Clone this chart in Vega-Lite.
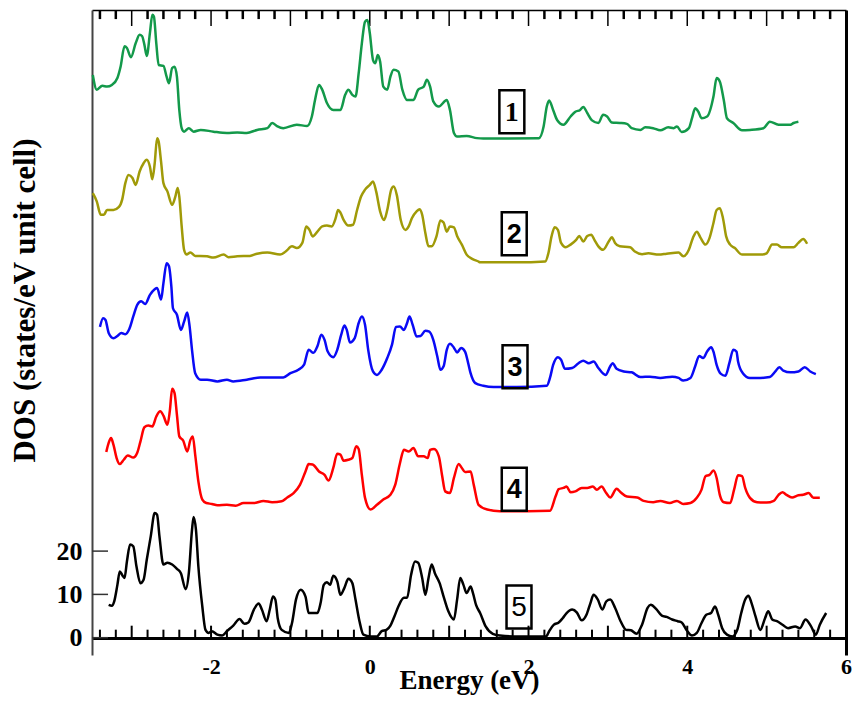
{"$schema":"https://vega.github.io/schema/vega-lite/v6.json","autosize":{"type":"none"},"padding":{"left":92,"top":10,"right":10,"bottom":52},"width":754,"height":645,"background":"white","config":{"view":{"stroke":null}},"resolve":{"axis":{"x":"independent","y":"independent"}},
"layer":[
{"data":{"name":"xticks"},"transform":[{"filter":"datum.kind == 'major'"}],"mark":{"type":"rule","color":"black","strokeWidth":2},"encoding":{"x":{"field":"E","type":"quantitative","scale":{"domain":[-3.5,6],"nice":false,"zero":false},"axis":null},"y":{"datum":0,"type":"quantitative","scale":{"domain":[-4,145],"nice":false,"zero":false},"axis":null},"y2":{"datum":2.77}}},
{"data":{"name":"xticks"},"transform":[{"filter":"datum.kind == 'minor'"}],"mark":{"type":"rule","color":"black","strokeWidth":2},"encoding":{"x":{"field":"E","type":"quantitative","axis":null},"y":{"datum":0,"type":"quantitative","axis":null},"y2":{"datum":1.85}}},
{"data":{"name":"xticks"},"transform":[{"filter":"datum.kind == 'major'"}],"mark":{"type":"rule","color":"black","strokeWidth":1.5},"encoding":{"x":{"field":"E","type":"quantitative","axis":null},"y":{"datum":145,"type":"quantitative","axis":null},"y2":{"datum":141.3}}},
{"data":{"name":"xticks"},"transform":[{"filter":"datum.kind == 'minor'"}],"mark":{"type":"rule","color":"black","strokeWidth":2.5},"encoding":{"x":{"field":"E","type":"quantitative","axis":null},"y":{"datum":145,"type":"quantitative","axis":null},"y2":{"datum":142.9}}},
{"data":{"name":"yticks"},"mark":{"type":"rule","color":"#333333","strokeWidth":1.5},"encoding":{"y":{"field":"v","type":"quantitative","axis":null},"x":{"datum":-3.5,"type":"quantitative","axis":null},"x2":{"datum":-3.298}}},
{"data":{"name":"dos"},"mark":{"type":"line","strokeWidth":2.5,"interpolate":"monotone"},"encoding":{"x":{"field":"E","type":"quantitative","scale":{"domain":[-3.5,6],"nice":false,"zero":false},"axis":{"orient":"bottom","offset":-17,"values":[-2,0,2,4,6],"ticks":false,"domain":true,"domainWidth":3,"domainColor":"black","labelPadding":18,"labelFont":"Liberation Serif","labelFontWeight":"bold","labelFontSize":22,"labelColor":"black","labelFlush":false,"labelOverlap":false,"labelExpr":"'' + datum.value","title":"Energy (eV)","titleFont":"Liberation Serif","titleFontSize":27,"titleFontWeight":"bold","titleColor":"black","titleY":50,"titleBaseline":"alphabetic","grid":false}},"y":{"field":"y","type":"quantitative","scale":{"domain":[-4,145],"nice":false,"zero":false},"axis":{"orient":"left","values":[0,10,20],"ticks":false,"domain":true,"domainWidth":2,"domainColor":"#444444","labelPadding":10,"labelFont":"Liberation Serif","labelFontWeight":"bold","labelFontSize":26,"labelColor":"black","labelFlush":false,"labelOverlap":false,"title":"DOS (states/eV unit cell)","titleFont":"Liberation Serif","titleFontSize":31,"titleFontWeight":"bold","titleColor":"black","titleX":-67,"titleY":290,"titleAngle":-90,"titleBaseline":"middle","titleAlign":"center","grid":false}},"color":{"field":"s","type":"nominal","scale":{"domain":[1,2,3,4,5],"range":["#13994a","#a09a08","#0a0af5","#ff0000","#000000"]},"legend":null}}},
{"data":{"name":"labels"},"mark":{"type":"point","shape":"M-0.58,-1L0.58,-1L0.58,1L-0.58,1Z","size":1849,"filled":false,"stroke":"black","strokeWidth":2.5,"opacity":1},"encoding":{"x":{"field":"E","type":"quantitative","axis":{"orient":"top","ticks":false,"labels":false,"domain":true,"domainWidth":1.5,"domainColor":"black","title":null,"grid":false}},"y":{"field":"y","type":"quantitative","axis":{"orient":"right","ticks":false,"labels":false,"domain":true,"domainWidth":3,"domainColor":"black","title":null,"grid":false}}}},
{"data":{"name":"labels"},"transform":[{"filter":"datum.label == '1'"}],"mark":{"type":"text","font":"Liberation Serif","fontWeight":"bold","fontSize":28,"baseline":"middle","align":"center","color":"black","dy":1},"encoding":{"text":{"field":"label"},"x":{"field":"E","type":"quantitative","axis":null},"y":{"field":"y","type":"quantitative","axis":null}}},
{"data":{"name":"labels"},"transform":[{"filter":"datum.label == '2' || datum.label == '3' || datum.label == '4'"}],"mark":{"type":"text","font":"Liberation Sans","fontWeight":"bold","fontSize":27,"baseline":"middle","align":"center","color":"black","dy":1},"encoding":{"text":{"field":"label"},"x":{"field":"E","type":"quantitative","axis":null},"y":{"field":"y","type":"quantitative","axis":null}}},
{"data":{"name":"labels"},"transform":[{"filter":"datum.label == '5'"}],"mark":{"type":"text","font":"Liberation Sans","fontWeight":"normal","fontSize":28,"baseline":"middle","align":"center","color":"black","dy":1},"encoding":{"text":{"field":"label"},"x":{"field":"E","type":"quantitative","axis":null},"y":{"field":"y","type":"quantitative","axis":null}}}
],
"datasets":{
"labels":[{"label":"1","E":1.79,"y":121.5},{"label":"2","E":1.82,"y":93.3},{"label":"3","E":1.83,"y":62.6},{"label":"4","E":1.82,"y":34.3},{"label":"5","E":1.88,"y":7.1}],
"xticks":[{"E":-3.4,"kind":"minor"},{"E":-3.2,"kind":"minor"},{"E":-3,"kind":"major"},{"E":-2.8,"kind":"minor"},{"E":-2.6,"kind":"minor"},{"E":-2.4,"kind":"minor"},{"E":-2.2,"kind":"minor"},{"E":-2,"kind":"major"},{"E":-1.8,"kind":"minor"},{"E":-1.6,"kind":"minor"},{"E":-1.4,"kind":"minor"},{"E":-1.2,"kind":"minor"},{"E":-1,"kind":"major"},{"E":-0.8,"kind":"minor"},{"E":-0.6,"kind":"minor"},{"E":-0.4,"kind":"minor"},{"E":-0.2,"kind":"minor"},{"E":0,"kind":"major"},{"E":0.2,"kind":"minor"},{"E":0.4,"kind":"minor"},{"E":0.6,"kind":"minor"},{"E":0.8,"kind":"minor"},{"E":1,"kind":"major"},{"E":1.2,"kind":"minor"},{"E":1.4,"kind":"minor"},{"E":1.6,"kind":"minor"},{"E":1.8,"kind":"minor"},{"E":2,"kind":"major"},{"E":2.2,"kind":"minor"},{"E":2.4,"kind":"minor"},{"E":2.6,"kind":"minor"},{"E":2.8,"kind":"minor"},{"E":3,"kind":"major"},{"E":3.2,"kind":"minor"},{"E":3.4,"kind":"minor"},{"E":3.6,"kind":"minor"},{"E":3.8,"kind":"minor"},{"E":4,"kind":"major"},{"E":4.2,"kind":"minor"},{"E":4.4,"kind":"minor"},{"E":4.6,"kind":"minor"},{"E":4.8,"kind":"minor"},{"E":5,"kind":"major"},{"E":5.2,"kind":"minor"},{"E":5.4,"kind":"minor"},{"E":5.6,"kind":"minor"},{"E":5.8,"kind":"minor"}],
"yticks":[{"v":0},{"v":10},{"v":20}],
"dos":[
{"s":1,"E":-3.49,"y":130},{"s":1,"E":-3.44,"y":126.6},{"s":1,"E":-3.37,"y":127.5},{"s":1,"E":-3.31,"y":127.3},{"s":1,"E":-3.25,"y":127.7},{"s":1,"E":-3.18,"y":129.3},{"s":1,"E":-3.14,"y":131.9},{"s":1,"E":-3.09,"y":136.6},{"s":1,"E":-3.06,"y":136.2},{"s":1,"E":-3.01,"y":134.1},{"s":1,"E":-2.95,"y":137.3},{"s":1,"E":-2.9,"y":139.3},{"s":1,"E":-2.87,"y":139},{"s":1,"E":-2.84,"y":137},{"s":1,"E":-2.81,"y":134.4},{"s":1,"E":-2.77,"y":139.7},{"s":1,"E":-2.74,"y":143.9},{"s":1,"E":-2.72,"y":143.5},{"s":1,"E":-2.69,"y":137.3},{"s":1,"E":-2.66,"y":132.3},{"s":1,"E":-2.6,"y":132.1},{"s":1,"E":-2.56,"y":129.6},{"s":1,"E":-2.53,"y":128.1},{"s":1,"E":-2.49,"y":131.6},{"s":1,"E":-2.46,"y":131.9},{"s":1,"E":-2.43,"y":129.6},{"s":1,"E":-2.4,"y":121.9},{"s":1,"E":-2.37,"y":117.7},{"s":1,"E":-2.34,"y":116.9},{"s":1,"E":-2.28,"y":117.7},{"s":1,"E":-2.22,"y":116.9},{"s":1,"E":-2.13,"y":117.3},{"s":1,"E":-1.97,"y":116.9},{"s":1,"E":-1.8,"y":116.6},{"s":1,"E":-1.67,"y":116.7},{"s":1,"E":-1.55,"y":116.6},{"s":1,"E":-1.42,"y":117.3},{"s":1,"E":-1.29,"y":117.7},{"s":1,"E":-1.23,"y":118.9},{"s":1,"E":-1.17,"y":118.2},{"s":1,"E":-1.09,"y":117.7},{"s":1,"E":-0.92,"y":118.5},{"s":1,"E":-0.79,"y":118.2},{"s":1,"E":-0.73,"y":120.4},{"s":1,"E":-0.69,"y":124.2},{"s":1,"E":-0.64,"y":127.7},{"s":1,"E":-0.6,"y":126.6},{"s":1,"E":-0.54,"y":123.5},{"s":1,"E":-0.46,"y":121.9},{"s":1,"E":-0.37,"y":121.9},{"s":1,"E":-0.31,"y":125.4},{"s":1,"E":-0.27,"y":126.6},{"s":1,"E":-0.22,"y":125.4},{"s":1,"E":-0.18,"y":125},{"s":1,"E":-0.14,"y":130.4},{"s":1,"E":-0.1,"y":137.3},{"s":1,"E":-0.06,"y":142.3},{"s":1,"E":-0.03,"y":142.7},{"s":1,"E":0,"y":139.7},{"s":1,"E":0.04,"y":133.5},{"s":1,"E":0.07,"y":132.7},{"s":1,"E":0.1,"y":134.6},{"s":1,"E":0.13,"y":133.1},{"s":1,"E":0.17,"y":127.3},{"s":1,"E":0.22,"y":126.6},{"s":1,"E":0.26,"y":129.6},{"s":1,"E":0.3,"y":131.2},{"s":1,"E":0.36,"y":130.8},{"s":1,"E":0.41,"y":126.6},{"s":1,"E":0.47,"y":124.2},{"s":1,"E":0.55,"y":124.2},{"s":1,"E":0.61,"y":126.6},{"s":1,"E":0.68,"y":127.3},{"s":1,"E":0.72,"y":128.9},{"s":1,"E":0.76,"y":127.3},{"s":1,"E":0.8,"y":123.9},{"s":1,"E":0.87,"y":122.7},{"s":1,"E":0.97,"y":124.2},{"s":1,"E":1.01,"y":121.9},{"s":1,"E":1.06,"y":116.6},{"s":1,"E":1.1,"y":115.8},{"s":1,"E":1.22,"y":115.9},{"s":1,"E":1.35,"y":115.4},{"s":1,"E":1.43,"y":115.3},{"s":1,"E":2.13,"y":115.4},{"s":1,"E":2.19,"y":118.1},{"s":1,"E":2.23,"y":122.7},{"s":1,"E":2.26,"y":124.1},{"s":1,"E":2.31,"y":121.9},{"s":1,"E":2.36,"y":119.6},{"s":1,"E":2.44,"y":118.5},{"s":1,"E":2.53,"y":120.4},{"s":1,"E":2.59,"y":121.5},{"s":1,"E":2.65,"y":121.9},{"s":1,"E":2.69,"y":122.6},{"s":1,"E":2.74,"y":121.2},{"s":1,"E":2.8,"y":119.5},{"s":1,"E":2.88,"y":118.9},{"s":1,"E":2.94,"y":120.8},{"s":1,"E":2.99,"y":120.4},{"s":1,"E":3.05,"y":119},{"s":1,"E":3.15,"y":118.9},{"s":1,"E":3.24,"y":118.7},{"s":1,"E":3.3,"y":117.7},{"s":1,"E":3.41,"y":117.3},{"s":1,"E":3.47,"y":117.9},{"s":1,"E":3.57,"y":117.7},{"s":1,"E":3.66,"y":117.2},{"s":1,"E":3.76,"y":117.9},{"s":1,"E":3.83,"y":117.7},{"s":1,"E":3.87,"y":118.1},{"s":1,"E":3.93,"y":116.8},{"s":1,"E":4.02,"y":117.7},{"s":1,"E":4.06,"y":120},{"s":1,"E":4.1,"y":122.3},{"s":1,"E":4.14,"y":121.5},{"s":1,"E":4.18,"y":120},{"s":1,"E":4.25,"y":120.4},{"s":1,"E":4.33,"y":125},{"s":1,"E":4.37,"y":129.3},{"s":1,"E":4.41,"y":128.5},{"s":1,"E":4.46,"y":124.2},{"s":1,"E":4.5,"y":120},{"s":1,"E":4.58,"y":118.9},{"s":1,"E":4.69,"y":117.2},{"s":1,"E":4.79,"y":117.3},{"s":1,"E":4.96,"y":117.7},{"s":1,"E":5.04,"y":119.2},{"s":1,"E":5.15,"y":118.5},{"s":1,"E":5.3,"y":118.5},{"s":1,"E":5.34,"y":118.9},{"s":1,"E":5.4,"y":119.2},
{"s":2,"E":-3.49,"y":102.7},{"s":2,"E":-3.44,"y":100.8},{"s":2,"E":-3.39,"y":97.7},{"s":2,"E":-3.35,"y":97.7},{"s":2,"E":-3.31,"y":98.8},{"s":2,"E":-3.23,"y":98.8},{"s":2,"E":-3.16,"y":99.5},{"s":2,"E":-3.12,"y":101.2},{"s":2,"E":-3.08,"y":105},{"s":2,"E":-3.04,"y":106.9},{"s":2,"E":-2.99,"y":106.2},{"s":2,"E":-2.95,"y":104.6},{"s":2,"E":-2.9,"y":107.7},{"s":2,"E":-2.85,"y":109.6},{"s":2,"E":-2.81,"y":110.4},{"s":2,"E":-2.77,"y":108.8},{"s":2,"E":-2.74,"y":105.9},{"s":2,"E":-2.71,"y":109.6},{"s":2,"E":-2.68,"y":115.4},{"s":2,"E":-2.66,"y":114.6},{"s":2,"E":-2.63,"y":110},{"s":2,"E":-2.6,"y":105},{"s":2,"E":-2.55,"y":103.1},{"s":2,"E":-2.49,"y":100},{"s":2,"E":-2.45,"y":101.9},{"s":2,"E":-2.42,"y":103.9},{"s":2,"E":-2.4,"y":101.9},{"s":2,"E":-2.37,"y":95},{"s":2,"E":-2.34,"y":89.6},{"s":2,"E":-2.31,"y":88.5},{"s":2,"E":-2.26,"y":89},{"s":2,"E":-2.2,"y":88.2},{"s":2,"E":-2.14,"y":88.2},{"s":2,"E":-2.05,"y":88.1},{"s":2,"E":-1.97,"y":87.8},{"s":2,"E":-1.84,"y":88.5},{"s":2,"E":-1.78,"y":87.9},{"s":2,"E":-1.67,"y":88.1},{"s":2,"E":-1.51,"y":88.2},{"s":2,"E":-1.42,"y":88.7},{"s":2,"E":-1.29,"y":89},{"s":2,"E":-1.13,"y":88.5},{"s":2,"E":-1.06,"y":89.2},{"s":2,"E":-0.98,"y":90.4},{"s":2,"E":-0.92,"y":90},{"s":2,"E":-0.85,"y":91.2},{"s":2,"E":-0.8,"y":95},{"s":2,"E":-0.76,"y":94.2},{"s":2,"E":-0.72,"y":92.7},{"s":2,"E":-0.66,"y":93.8},{"s":2,"E":-0.6,"y":95},{"s":2,"E":-0.54,"y":95.2},{"s":2,"E":-0.48,"y":95},{"s":2,"E":-0.43,"y":96.9},{"s":2,"E":-0.4,"y":98.8},{"s":2,"E":-0.37,"y":98.2},{"s":2,"E":-0.33,"y":96.5},{"s":2,"E":-0.27,"y":95.2},{"s":2,"E":-0.21,"y":95.4},{"s":2,"E":-0.16,"y":98.8},{"s":2,"E":-0.11,"y":101.9},{"s":2,"E":-0.06,"y":103.5},{"s":2,"E":0,"y":104.6},{"s":2,"E":0.04,"y":105.4},{"s":2,"E":0.08,"y":103.1},{"s":2,"E":0.13,"y":98.5},{"s":2,"E":0.18,"y":96.5},{"s":2,"E":0.22,"y":98.8},{"s":2,"E":0.27,"y":103.5},{"s":2,"E":0.3,"y":104.2},{"s":2,"E":0.34,"y":102.3},{"s":2,"E":0.39,"y":96.5},{"s":2,"E":0.45,"y":94.2},{"s":2,"E":0.49,"y":95},{"s":2,"E":0.53,"y":96.9},{"s":2,"E":0.59,"y":98.5},{"s":2,"E":0.63,"y":99},{"s":2,"E":0.66,"y":97.7},{"s":2,"E":0.7,"y":93.5},{"s":2,"E":0.74,"y":90.4},{"s":2,"E":0.78,"y":90.4},{"s":2,"E":0.84,"y":92.7},{"s":2,"E":0.89,"y":96.4},{"s":2,"E":0.93,"y":95.9},{"s":2,"E":0.97,"y":93.8},{"s":2,"E":1.01,"y":95},{"s":2,"E":1.06,"y":94.8},{"s":2,"E":1.1,"y":92.8},{"s":2,"E":1.16,"y":90.8},{"s":2,"E":1.22,"y":88.5},{"s":2,"E":1.29,"y":87.5},{"s":2,"E":1.37,"y":86.9},{"s":2,"E":1.39,"y":86.7},{"s":2,"E":1.85,"y":86.7},{"s":2,"E":2.21,"y":86.9},{"s":2,"E":2.25,"y":88.8},{"s":2,"E":2.29,"y":92.7},{"s":2,"E":2.33,"y":94.8},{"s":2,"E":2.37,"y":94.2},{"s":2,"E":2.41,"y":91.2},{"s":2,"E":2.47,"y":90.2},{"s":2,"E":2.53,"y":90.8},{"s":2,"E":2.6,"y":91.9},{"s":2,"E":2.64,"y":92.8},{"s":2,"E":2.69,"y":91.5},{"s":2,"E":2.74,"y":92.8},{"s":2,"E":2.79,"y":93.1},{"s":2,"E":2.83,"y":91.9},{"s":2,"E":2.88,"y":90.4},{"s":2,"E":2.94,"y":89.6},{"s":2,"E":3.01,"y":91.5},{"s":2,"E":3.05,"y":92.5},{"s":2,"E":3.09,"y":91.2},{"s":2,"E":3.15,"y":90.4},{"s":2,"E":3.28,"y":90.2},{"s":2,"E":3.34,"y":89.2},{"s":2,"E":3.43,"y":88.6},{"s":2,"E":3.51,"y":88.8},{"s":2,"E":3.64,"y":88.5},{"s":2,"E":3.74,"y":88.7},{"s":2,"E":3.89,"y":89},{"s":2,"E":3.95,"y":88.1},{"s":2,"E":4.02,"y":89.6},{"s":2,"E":4.07,"y":92.3},{"s":2,"E":4.12,"y":93.8},{"s":2,"E":4.17,"y":92.3},{"s":2,"E":4.23,"y":90.8},{"s":2,"E":4.28,"y":92.3},{"s":2,"E":4.33,"y":95.8},{"s":2,"E":4.37,"y":98.8},{"s":2,"E":4.41,"y":99.2},{"s":2,"E":4.45,"y":96.9},{"s":2,"E":4.49,"y":92.7},{"s":2,"E":4.54,"y":90.8},{"s":2,"E":4.6,"y":90},{"s":2,"E":4.69,"y":88.5},{"s":2,"E":4.79,"y":88.5},{"s":2,"E":4.94,"y":88.5},{"s":2,"E":5,"y":88.8},{"s":2,"E":5.07,"y":90.8},{"s":2,"E":5.13,"y":90.8},{"s":2,"E":5.19,"y":90.2},{"s":2,"E":5.34,"y":90.2},{"s":2,"E":5.4,"y":91.2},{"s":2,"E":5.46,"y":92.1},{"s":2,"E":5.51,"y":91},
{"s":3,"E":-3.4,"y":71.8},{"s":3,"E":-3.36,"y":73.8},{"s":3,"E":-3.33,"y":73.4},{"s":3,"E":-3.29,"y":70.4},{"s":3,"E":-3.23,"y":69.2},{"s":3,"E":-3.18,"y":69.7},{"s":3,"E":-3.13,"y":70.4},{"s":3,"E":-3.08,"y":70.1},{"s":3,"E":-3.03,"y":71.3},{"s":3,"E":-2.98,"y":74.2},{"s":3,"E":-2.93,"y":76.9},{"s":3,"E":-2.88,"y":77.7},{"s":3,"E":-2.83,"y":77.1},{"s":3,"E":-2.77,"y":79.2},{"s":3,"E":-2.71,"y":80.5},{"s":3,"E":-2.68,"y":80.8},{"s":3,"E":-2.63,"y":78.1},{"s":3,"E":-2.6,"y":81.9},{"s":3,"E":-2.56,"y":86.5},{"s":3,"E":-2.53,"y":85.8},{"s":3,"E":-2.5,"y":81.1},{"s":3,"E":-2.48,"y":76.1},{"s":3,"E":-2.43,"y":74.6},{"s":3,"E":-2.38,"y":71.1},{"s":3,"E":-2.34,"y":73},{"s":3,"E":-2.3,"y":75.1},{"s":3,"E":-2.27,"y":71.9},{"s":3,"E":-2.24,"y":66.5},{"s":3,"E":-2.2,"y":61.1},{"s":3,"E":-2.13,"y":59.6},{"s":3,"E":-2.05,"y":59.6},{"s":3,"E":-1.92,"y":59.2},{"s":3,"E":-1.8,"y":59.6},{"s":3,"E":-1.72,"y":59.2},{"s":3,"E":-1.55,"y":59.6},{"s":3,"E":-1.38,"y":60.1},{"s":3,"E":-1.25,"y":60.1},{"s":3,"E":-1.09,"y":60.1},{"s":3,"E":-1,"y":61.1},{"s":3,"E":-0.9,"y":61.9},{"s":3,"E":-0.83,"y":63},{"s":3,"E":-0.77,"y":66.5},{"s":3,"E":-0.71,"y":65.8},{"s":3,"E":-0.66,"y":67.3},{"s":3,"E":-0.61,"y":70},{"s":3,"E":-0.57,"y":68.8},{"s":3,"E":-0.53,"y":66.1},{"s":3,"E":-0.46,"y":64.8},{"s":3,"E":-0.41,"y":66.5},{"s":3,"E":-0.36,"y":70},{"s":3,"E":-0.32,"y":72.1},{"s":3,"E":-0.29,"y":71.1},{"s":3,"E":-0.25,"y":68.2},{"s":3,"E":-0.19,"y":69.2},{"s":3,"E":-0.14,"y":72.7},{"s":3,"E":-0.1,"y":74.2},{"s":3,"E":-0.06,"y":72.3},{"s":3,"E":-0.02,"y":66.5},{"s":3,"E":0.04,"y":61.5},{"s":3,"E":0.09,"y":60.7},{"s":3,"E":0.15,"y":61.9},{"s":3,"E":0.22,"y":64.6},{"s":3,"E":0.28,"y":67.7},{"s":3,"E":0.33,"y":71.8},{"s":3,"E":0.38,"y":71.9},{"s":3,"E":0.43,"y":71.1},{"s":3,"E":0.47,"y":72.7},{"s":3,"E":0.5,"y":74.2},{"s":3,"E":0.54,"y":72.3},{"s":3,"E":0.59,"y":69.6},{"s":3,"E":0.64,"y":69.7},{"s":3,"E":0.7,"y":70.9},{"s":3,"E":0.75,"y":70.7},{"s":3,"E":0.8,"y":68.8},{"s":3,"E":0.85,"y":65},{"s":3,"E":0.89,"y":61.9},{"s":3,"E":0.93,"y":62.7},{"s":3,"E":0.97,"y":66.5},{"s":3,"E":1.01,"y":67.9},{"s":3,"E":1.06,"y":67},{"s":3,"E":1.1,"y":65.9},{"s":3,"E":1.15,"y":66.9},{"s":3,"E":1.2,"y":66.1},{"s":3,"E":1.24,"y":63.4},{"s":3,"E":1.27,"y":61.1},{"s":3,"E":1.33,"y":58.8},{"s":3,"E":1.43,"y":58.2},{"s":3,"E":1.56,"y":57.9},{"s":3,"E":1.85,"y":57.9},{"s":3,"E":2.23,"y":58.2},{"s":3,"E":2.27,"y":60},{"s":3,"E":2.31,"y":63},{"s":3,"E":2.37,"y":64.8},{"s":3,"E":2.41,"y":64.2},{"s":3,"E":2.46,"y":62.1},{"s":3,"E":2.55,"y":62.3},{"s":3,"E":2.63,"y":63.4},{"s":3,"E":2.69,"y":64},{"s":3,"E":2.76,"y":63.4},{"s":3,"E":2.82,"y":63.8},{"s":3,"E":2.88,"y":62.3},{"s":3,"E":2.97,"y":60.7},{"s":3,"E":3.03,"y":62.7},{"s":3,"E":3.06,"y":63.4},{"s":3,"E":3.11,"y":62.1},{"s":3,"E":3.2,"y":61.5},{"s":3,"E":3.3,"y":61.3},{"s":3,"E":3.41,"y":60.2},{"s":3,"E":3.53,"y":60.3},{"s":3,"E":3.66,"y":60},{"s":3,"E":3.81,"y":60.3},{"s":3,"E":3.89,"y":60},{"s":3,"E":3.95,"y":59.4},{"s":3,"E":4.04,"y":60},{"s":3,"E":4.1,"y":62.7},{"s":3,"E":4.15,"y":65.1},{"s":3,"E":4.2,"y":64.6},{"s":3,"E":4.25,"y":66.1},{"s":3,"E":4.3,"y":67.1},{"s":3,"E":4.33,"y":66.1},{"s":3,"E":4.37,"y":63},{"s":3,"E":4.42,"y":61},{"s":3,"E":4.48,"y":60.5},{"s":3,"E":4.53,"y":63.4},{"s":3,"E":4.58,"y":66.5},{"s":3,"E":4.62,"y":66.1},{"s":3,"E":4.64,"y":63.8},{"s":3,"E":4.7,"y":61.1},{"s":3,"E":4.79,"y":60},{"s":3,"E":4.92,"y":60},{"s":3,"E":5.04,"y":60.2},{"s":3,"E":5.11,"y":61.5},{"s":3,"E":5.16,"y":62.5},{"s":3,"E":5.21,"y":61.7},{"s":3,"E":5.3,"y":61.3},{"s":3,"E":5.4,"y":61.5},{"s":3,"E":5.48,"y":62.5},{"s":3,"E":5.55,"y":61.5},{"s":3,"E":5.62,"y":60.9},
{"s":4,"E":-3.32,"y":42.9},{"s":4,"E":-3.29,"y":45},{"s":4,"E":-3.26,"y":46.1},{"s":4,"E":-3.23,"y":44.6},{"s":4,"E":-3.19,"y":41.5},{"s":4,"E":-3.15,"y":40.1},{"s":4,"E":-3.1,"y":41.1},{"s":4,"E":-3.05,"y":42.1},{"s":4,"E":-2.98,"y":41.6},{"s":4,"E":-2.93,"y":42.7},{"s":4,"E":-2.89,"y":45.3},{"s":4,"E":-2.84,"y":48.6},{"s":4,"E":-2.79,"y":49},{"s":4,"E":-2.74,"y":48.8},{"s":4,"E":-2.69,"y":51.1},{"s":4,"E":-2.64,"y":52.3},{"s":4,"E":-2.6,"y":51.3},{"s":4,"E":-2.55,"y":49.2},{"s":4,"E":-2.52,"y":52.3},{"s":4,"E":-2.49,"y":57.5},{"s":4,"E":-2.46,"y":56.5},{"s":4,"E":-2.43,"y":51.5},{"s":4,"E":-2.4,"y":46.5},{"s":4,"E":-2.35,"y":45.5},{"s":4,"E":-2.3,"y":43},{"s":4,"E":-2.26,"y":45.7},{"s":4,"E":-2.23,"y":46.5},{"s":4,"E":-2.2,"y":42.3},{"s":4,"E":-2.16,"y":36.1},{"s":4,"E":-2.11,"y":31.9},{"s":4,"E":-2.06,"y":31.1},{"s":4,"E":-1.99,"y":30.9},{"s":4,"E":-1.92,"y":30.6},{"s":4,"E":-1.8,"y":30.7},{"s":4,"E":-1.69,"y":30.5},{"s":4,"E":-1.59,"y":31.1},{"s":4,"E":-1.46,"y":31.1},{"s":4,"E":-1.34,"y":31.6},{"s":4,"E":-1.23,"y":31.3},{"s":4,"E":-1.11,"y":31.5},{"s":4,"E":-1.04,"y":32.4},{"s":4,"E":-0.96,"y":33.4},{"s":4,"E":-0.88,"y":35.3},{"s":4,"E":-0.81,"y":38.4},{"s":4,"E":-0.77,"y":40.1},{"s":4,"E":-0.72,"y":40},{"s":4,"E":-0.64,"y":38.4},{"s":4,"E":-0.57,"y":37.6},{"s":4,"E":-0.52,"y":36.3},{"s":4,"E":-0.46,"y":39.2},{"s":4,"E":-0.41,"y":42.5},{"s":4,"E":-0.37,"y":42.3},{"s":4,"E":-0.33,"y":40.9},{"s":4,"E":-0.27,"y":41.1},{"s":4,"E":-0.22,"y":41.5},{"s":4,"E":-0.17,"y":44.2},{"s":4,"E":-0.14,"y":43.6},{"s":4,"E":-0.1,"y":37.6},{"s":4,"E":-0.06,"y":32.3},{"s":4,"E":0.01,"y":29.6},{"s":4,"E":0.09,"y":30.7},{"s":4,"E":0.17,"y":31.9},{"s":4,"E":0.26,"y":33},{"s":4,"E":0.32,"y":35.3},{"s":4,"E":0.38,"y":40.3},{"s":4,"E":0.43,"y":43.4},{"s":4,"E":0.49,"y":43},{"s":4,"E":0.55,"y":43.8},{"s":4,"E":0.61,"y":41.9},{"s":4,"E":0.68,"y":41.9},{"s":4,"E":0.73,"y":41.5},{"s":4,"E":0.76,"y":43.4},{"s":4,"E":0.81,"y":43.6},{"s":4,"E":0.87,"y":41.9},{"s":4,"E":0.91,"y":37.6},{"s":4,"E":0.95,"y":33.8},{"s":4,"E":1.01,"y":33.4},{"s":4,"E":1.06,"y":36.9},{"s":4,"E":1.12,"y":40.1},{"s":4,"E":1.16,"y":39.2},{"s":4,"E":1.2,"y":38.3},{"s":4,"E":1.27,"y":38.4},{"s":4,"E":1.31,"y":35.3},{"s":4,"E":1.37,"y":30.7},{"s":4,"E":1.48,"y":29.6},{"s":4,"E":1.64,"y":29.2},{"s":4,"E":1.98,"y":29.2},{"s":4,"E":2.27,"y":29.3},{"s":4,"E":2.34,"y":32.6},{"s":4,"E":2.38,"y":34.3},{"s":4,"E":2.44,"y":34.6},{"s":4,"E":2.48,"y":34.9},{"s":4,"E":2.53,"y":33.6},{"s":4,"E":2.59,"y":33.8},{"s":4,"E":2.67,"y":34.6},{"s":4,"E":2.74,"y":34.6},{"s":4,"E":2.81,"y":34.9},{"s":4,"E":2.86,"y":34.2},{"s":4,"E":2.92,"y":34.9},{"s":4,"E":2.98,"y":33.4},{"s":4,"E":3.03,"y":32.4},{"s":4,"E":3.11,"y":34.4},{"s":4,"E":3.16,"y":33.6},{"s":4,"E":3.24,"y":32.6},{"s":4,"E":3.37,"y":32.4},{"s":4,"E":3.45,"y":31.6},{"s":4,"E":3.57,"y":31.3},{"s":4,"E":3.66,"y":31.6},{"s":4,"E":3.78,"y":31.1},{"s":4,"E":3.87,"y":31.6},{"s":4,"E":3.95,"y":30.9},{"s":4,"E":4.04,"y":31.1},{"s":4,"E":4.12,"y":32.3},{"s":4,"E":4.18,"y":34.2},{"s":4,"E":4.23,"y":37.3},{"s":4,"E":4.28,"y":37.6},{"s":4,"E":4.33,"y":38.6},{"s":4,"E":4.37,"y":36.9},{"s":4,"E":4.41,"y":33},{"s":4,"E":4.46,"y":31.3},{"s":4,"E":4.54,"y":31.1},{"s":4,"E":4.59,"y":34.2},{"s":4,"E":4.64,"y":37.5},{"s":4,"E":4.69,"y":37.3},{"s":4,"E":4.73,"y":34.6},{"s":4,"E":4.79,"y":32.3},{"s":4,"E":4.88,"y":31.3},{"s":4,"E":5,"y":31.2},{"s":4,"E":5.09,"y":31.6},{"s":4,"E":5.15,"y":33},{"s":4,"E":5.2,"y":33.6},{"s":4,"E":5.25,"y":33},{"s":4,"E":5.32,"y":32.4},{"s":4,"E":5.4,"y":32.9},{"s":4,"E":5.46,"y":33},{"s":4,"E":5.53,"y":33.4},{"s":4,"E":5.59,"y":32.3},{"s":4,"E":5.67,"y":32.3},
{"s":5,"E":-3.29,"y":7.6},{"s":5,"E":-3.25,"y":7.4},{"s":5,"E":-3.22,"y":8.4},{"s":5,"E":-3.18,"y":12.2},{"s":5,"E":-3.15,"y":15.3},{"s":5,"E":-3.12,"y":14.5},{"s":5,"E":-3.09,"y":13.8},{"s":5,"E":-3.06,"y":17.6},{"s":5,"E":-3.02,"y":21.5},{"s":5,"E":-2.98,"y":21.1},{"s":5,"E":-2.94,"y":16.5},{"s":5,"E":-2.89,"y":12.6},{"s":5,"E":-2.85,"y":13.4},{"s":5,"E":-2.81,"y":18},{"s":5,"E":-2.76,"y":23.4},{"s":5,"E":-2.71,"y":28.8},{"s":5,"E":-2.68,"y":28.4},{"s":5,"E":-2.65,"y":23.4},{"s":5,"E":-2.6,"y":16.9},{"s":5,"E":-2.55,"y":17.3},{"s":5,"E":-2.49,"y":16.9},{"s":5,"E":-2.43,"y":15.9},{"s":5,"E":-2.38,"y":14.9},{"s":5,"E":-2.32,"y":11.2},{"s":5,"E":-2.28,"y":14.9},{"s":5,"E":-2.24,"y":24.9},{"s":5,"E":-2.22,"y":27.9},{"s":5,"E":-2.19,"y":24.9},{"s":5,"E":-2.16,"y":16.5},{"s":5,"E":-2.11,"y":7.2},{"s":5,"E":-2.07,"y":1.8},{"s":5,"E":-2.03,"y":1.1},{"s":5,"E":-1.99,"y":1.5},{"s":5,"E":-1.92,"y":0.7},{"s":5,"E":-1.86,"y":0.5},{"s":5,"E":-1.8,"y":1.5},{"s":5,"E":-1.72,"y":2.8},{"s":5,"E":-1.64,"y":4.3},{"s":5,"E":-1.58,"y":3.2},{"s":5,"E":-1.53,"y":3.5},{"s":5,"E":-1.46,"y":6.5},{"s":5,"E":-1.4,"y":7.9},{"s":5,"E":-1.36,"y":6.5},{"s":5,"E":-1.3,"y":3.8},{"s":5,"E":-1.26,"y":6.5},{"s":5,"E":-1.22,"y":9.5},{"s":5,"E":-1.19,"y":8.8},{"s":5,"E":-1.16,"y":4.5},{"s":5,"E":-1.11,"y":1.8},{"s":5,"E":-1.02,"y":1.1},{"s":5,"E":-0.98,"y":3.4},{"s":5,"E":-0.93,"y":8.8},{"s":5,"E":-0.87,"y":11.1},{"s":5,"E":-0.81,"y":9.5},{"s":5,"E":-0.77,"y":5.7},{"s":5,"E":-0.72,"y":5.7},{"s":5,"E":-0.66,"y":5.7},{"s":5,"E":-0.62,"y":8},{"s":5,"E":-0.58,"y":12.2},{"s":5,"E":-0.54,"y":12.8},{"s":5,"E":-0.5,"y":12.2},{"s":5,"E":-0.46,"y":14.3},{"s":5,"E":-0.41,"y":13},{"s":5,"E":-0.37,"y":9.9},{"s":5,"E":-0.32,"y":11.5},{"s":5,"E":-0.27,"y":13.6},{"s":5,"E":-0.22,"y":12.6},{"s":5,"E":-0.18,"y":8.8},{"s":5,"E":-0.13,"y":3.8},{"s":5,"E":-0.08,"y":0.7},{"s":5,"E":0.01,"y":0.3},{"s":5,"E":0.09,"y":0.3},{"s":5,"E":0.15,"y":1.5},{"s":5,"E":0.21,"y":1.8},{"s":5,"E":0.26,"y":2.8},{"s":5,"E":0.31,"y":4.9},{"s":5,"E":0.36,"y":7.2},{"s":5,"E":0.43,"y":9.2},{"s":5,"E":0.47,"y":9.2},{"s":5,"E":0.52,"y":14.5},{"s":5,"E":0.57,"y":17.6},{"s":5,"E":0.61,"y":17.3},{"s":5,"E":0.66,"y":13.8},{"s":5,"E":0.7,"y":9.9},{"s":5,"E":0.74,"y":13.8},{"s":5,"E":0.78,"y":16.9},{"s":5,"E":0.82,"y":14.9},{"s":5,"E":0.88,"y":12.6},{"s":5,"E":0.93,"y":9.5},{"s":5,"E":0.99,"y":6.1},{"s":5,"E":1.06,"y":4.2},{"s":5,"E":1.1,"y":8.8},{"s":5,"E":1.14,"y":13.8},{"s":5,"E":1.18,"y":12.2},{"s":5,"E":1.22,"y":10.3},{"s":5,"E":1.27,"y":11.8},{"s":5,"E":1.3,"y":10.3},{"s":5,"E":1.34,"y":7.5},{"s":5,"E":1.39,"y":5.7},{"s":5,"E":1.46,"y":2.6},{"s":5,"E":1.55,"y":0.9},{"s":5,"E":1.64,"y":0.5},{"s":5,"E":1.81,"y":0.3},{"s":5,"E":2.22,"y":0.3},{"s":5,"E":2.26,"y":1.5},{"s":5,"E":2.32,"y":3},{"s":5,"E":2.38,"y":3.5},{"s":5,"E":2.43,"y":4.5},{"s":5,"E":2.48,"y":5.7},{"s":5,"E":2.55,"y":6.5},{"s":5,"E":2.61,"y":5.8},{"s":5,"E":2.67,"y":4},{"s":5,"E":2.73,"y":5.3},{"s":5,"E":2.78,"y":8},{"s":5,"E":2.82,"y":9.9},{"s":5,"E":2.87,"y":8.9},{"s":5,"E":2.93,"y":6.5},{"s":5,"E":2.98,"y":8.4},{"s":5,"E":3.03,"y":8.8},{"s":5,"E":3.09,"y":6.9},{"s":5,"E":3.16,"y":3.8},{"s":5,"E":3.23,"y":1.8},{"s":5,"E":3.29,"y":1.7},{"s":5,"E":3.36,"y":0.9},{"s":5,"E":3.43,"y":3},{"s":5,"E":3.5,"y":6.9},{"s":5,"E":3.54,"y":7.6},{"s":5,"E":3.61,"y":6.6},{"s":5,"E":3.68,"y":5.1},{"s":5,"E":3.74,"y":4.8},{"s":5,"E":3.81,"y":4.2},{"s":5,"E":3.88,"y":3.8},{"s":5,"E":3.93,"y":3.5},{"s":5,"E":3.99,"y":1.8},{"s":5,"E":4.06,"y":0.5},{"s":5,"E":4.12,"y":1.1},{"s":5,"E":4.18,"y":3.4},{"s":5,"E":4.24,"y":5.3},{"s":5,"E":4.3,"y":5.7},{"s":5,"E":4.35,"y":7.2},{"s":5,"E":4.39,"y":5.3},{"s":5,"E":4.44,"y":2.2},{"s":5,"E":4.5,"y":0.7},{"s":5,"E":4.57,"y":0.3},{"s":5,"E":4.63,"y":1.8},{"s":5,"E":4.68,"y":5.7},{"s":5,"E":4.73,"y":8.8},{"s":5,"E":4.77,"y":9.7},{"s":5,"E":4.81,"y":8},{"s":5,"E":4.86,"y":4.9},{"s":5,"E":4.92,"y":1.8},{"s":5,"E":4.98,"y":4.5},{"s":5,"E":5.02,"y":6.1},{"s":5,"E":5.07,"y":4.2},{"s":5,"E":5.13,"y":3.8},{"s":5,"E":5.2,"y":3},{"s":5,"E":5.27,"y":2.2},{"s":5,"E":5.36,"y":2.6},{"s":5,"E":5.42,"y":2.2},{"s":5,"E":5.49,"y":4.2},{"s":5,"E":5.56,"y":2.6},{"s":5,"E":5.62,"y":0.7},{"s":5,"E":5.67,"y":3},{"s":5,"E":5.75,"y":5.7}
]}}
